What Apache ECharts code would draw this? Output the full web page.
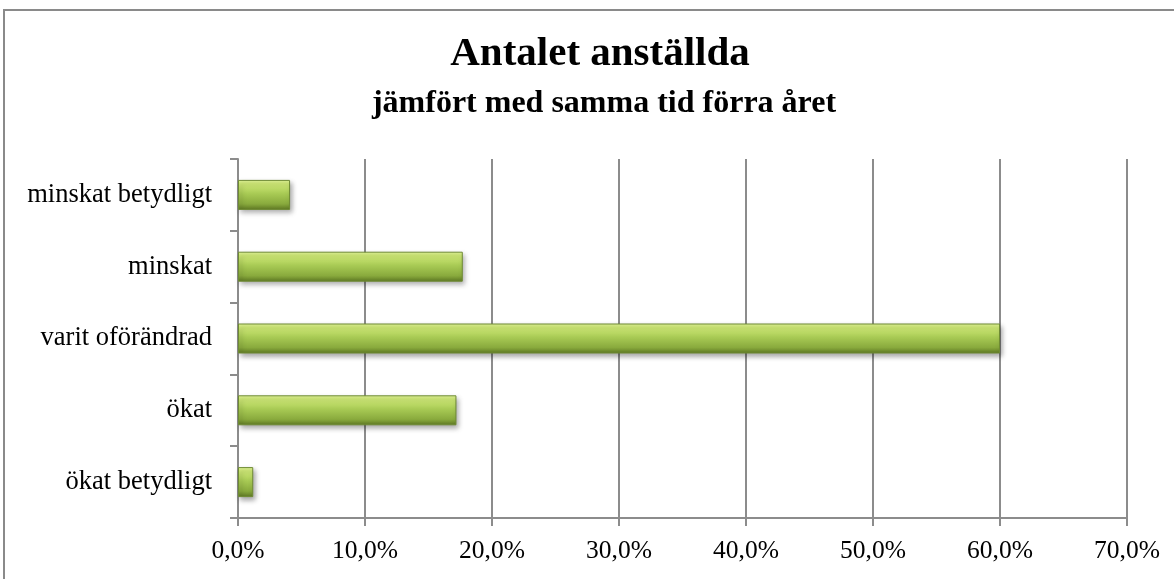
<!DOCTYPE html>
<html>
<head>
<meta charset="utf-8">
<script src="https://cdn.jsdelivr.net/npm/echarts@6/dist/echarts.min.js"></script>
<style>
  html, body { margin: 0; padding: 0; background: #ffffff; }
  #chart { width: 1174px; height: 579px; }
</style>
</head>
<body>
<div id="chart"></div>
<script>
// categories listed bottom to top (category y axis starts at the bottom)
const categories = ["ökat betydligt", "ökat", "varit oförändrad", "minskat", "minskat betydligt"];
const shares = [1.2, 17.2, 60.0, 17.7, 4.1];
const xTicks = [0, 10, 20, 30, 40, 50, 60, 70];
const titleText = "Antalet anställda";
const subtitleText = "jämfört med samma tid förra året";

const serif = "'Liberation Serif', 'DejaVu Serif', serif";
const gridGray = "#8c8c8c";

const myChart = echarts.init(document.getElementById("chart"));

const option = {
  backgroundColor: "#ffffff",
  animation: false,
  title: [
    {
      text: titleText,
      left: 600,
      top: 34,
      padding: 0,
      textAlign: "center",
      textStyle: { fontFamily: serif, fontSize: 41, fontWeight: "bold", color: "#000" },
    },
    {
      text: subtitleText,
      left: 604,
      top: 88,
      padding: 0,
      textAlign: "center",
      textStyle: { fontFamily: serif, fontSize: 32, fontWeight: "bold", color: "#000" },
    },
  ],
  graphic: [
    {
      type: "rect",
      silent: true,
      shape: { x: 4, y: 10, width: 1200, height: 600 },
      style: { fill: "none", stroke: "#8a8a8a", lineWidth: 2 },
    },
  ],
  grid: {
    left: 238,
    right: 47,
    top: 159,
    bottom: 61,
    containLabel: false,
    outerBoundsMode: "none",
  },
  xAxis: {
    type: "value",
    min: xTicks[0],
    max: xTicks[xTicks.length - 1],
    interval: 10,
    axisLine: { show: true, lineStyle: { color: gridGray, width: 2 } },
    axisTick: { show: true, length: 8, lineStyle: { color: gridGray, width: 2 } },
    splitLine: { show: true, lineStyle: { color: gridGray, width: 2 } },
    axisLabel: {
      margin: 20,
      fontFamily: serif,
      fontSize: 25.5,
      color: "#000",
      formatter: (v) => v.toFixed(1).replace(".", ",") + "%",
    },
  },
  yAxis: {
    type: "category",
    data: categories,
    axisLine: { show: true, lineStyle: { color: gridGray, width: 2 } },
    axisTick: { show: true, length: 8, lineStyle: { color: gridGray, width: 2 } },
    splitLine: { show: false },
    axisLabel: {
      margin: 26,
      fontFamily: serif,
      fontSize: 26.5,
      color: "#000",
    },
  },
  series: [
    {
      type: "bar",
      data: shares,
      barWidth: 30,
      itemStyle: {
        color: {
          type: "linear",
          x: 0,
          y: 0,
          x2: 0,
          y2: 1,
          colorStops: [
            { offset: 0, color: "#e4f89c" },
            { offset: 0.12, color: "#d0ea78" },
            { offset: 0.45, color: "#a9cb55" },
            { offset: 0.8, color: "#89aa3d" },
            { offset: 1, color: "#5d7723" },
          ],
        },
        borderColor: "#6e8a33",
        borderWidth: 1,
        shadowColor: "rgba(0,0,0,0.35)",
        shadowBlur: 5,
        shadowOffsetX: 2,
        shadowOffsetY: 3,
      },
    },
  ],
};

myChart.setOption(option);
window.addEventListener("resize", () => {
  myChart.resize();
});
</script>
</body>
</html>
